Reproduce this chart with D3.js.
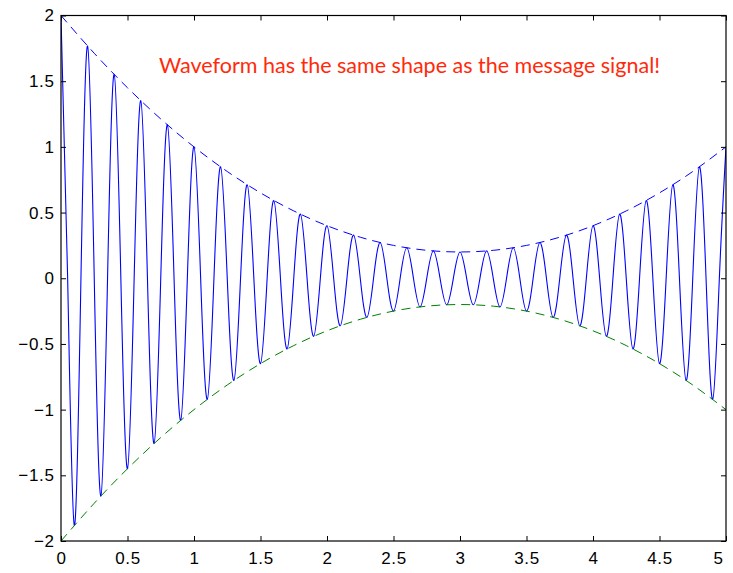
<!DOCTYPE html>
<html>
<head>
<meta charset="utf-8">
<script src="https://cdn.jsdelivr.net/npm/d3@7"></script>
<style>
  html, body { margin: 0; padding: 0; background: #fff; }
  svg { display: block; }
  .tick text { font-family: "Liberation Sans", Arial, Helvetica, sans-serif; font-size: 17px; letter-spacing: 0.7px; fill: #000; }
</style>
</head>
<body>
<svg id="chart" width="733" height="573"></svg>
<script>
// Modulated waveform: peak value of each half cycle (every 0.1 s, alternating sign)
const peakStep = 0.1;
const waveformPeaks = [
  2.000, -1.882, 1.768, -1.658, 1.552, -1.450, 1.352, -1.258, 1.168, -1.082,
  1.000, -0.922, 0.848, -0.778, 0.712, -0.650, 0.592, -0.538, 0.488, -0.442,
  0.400, -0.362, 0.328, -0.298, 0.272, -0.250, 0.232, -0.218, 0.208, -0.202,
  0.200, -0.202, 0.208, -0.218, 0.232, -0.250, 0.272, -0.298, 0.328, -0.362,
  0.400, -0.442, 0.488, -0.538, 0.592, -0.650, 0.712, -0.778, 0.848, -0.922,
  1.000
];

// Message envelope sampled every 0.25 s
const envelopeTimes = [0, 0.25, 0.5, 0.75, 1, 1.25, 1.5, 1.75, 2, 2.25, 2.5,
  2.75, 3, 3.25, 3.5, 3.75, 4, 4.25, 4.5, 4.75, 5];
const upperEnvelope = [2.0, 1.7125, 1.45, 1.2125, 1.0, 0.8125, 0.65, 0.5125, 0.4,
  0.3125, 0.25, 0.2125, 0.2, 0.2125, 0.25, 0.3125, 0.4, 0.5125, 0.65, 0.8125, 1.0];
const lowerEnvelope = [-2.0, -1.7125, -1.45, -1.2125, -1.0, -0.8125, -0.65, -0.5125, -0.4,
  -0.3125, -0.25, -0.2125, -0.2, -0.2125, -0.25, -0.3125, -0.4, -0.5125, -0.65, -0.8125, -1.0];

const xTickValues = [0, 0.5, 1, 1.5, 2, 2.5, 3, 3.5, 4, 4.5, 5];
const xTickLabels = ["0", "0.5", "1", "1.5", "2", "2.5", "3", "3.5", "4", "4.5", "5"];
const yTickValues = [-2, -1.5, -1, -0.5, 0, 0.5, 1, 1.5, 2];
const yTickLabels = ["\u22122", "\u22121.5", "\u22121", "\u22120.5", "0", "0.5", "1", "1.5", "2"];

const annotation = "Waveform has the same shape as the message signal!";

const svg = d3.select("#chart");
const plotLeft = 61, plotRight = 726, plotTop = 15.5, plotBottom = 541;

const x = d3.scaleLinear().domain([0, 5]).range([plotLeft, plotRight]);
const y = d3.scaleLinear().domain([-2, 2]).range([plotBottom, plotTop]);

// Waveform points: each peak followed by the zero crossing a quarter period later
const wavePoints = [];
waveformPeaks.forEach((v, i) => {
  const t = i * peakStep;
  wavePoints.push([t, v]);
  if (i < waveformPeaks.length - 1) wavePoints.push([t + peakStep / 2, 0]);
});

svg.append("defs").append("clipPath").attr("id", "plotClip")
  .append("rect").attr("x", plotLeft).attr("y", plotTop - 1)
  .attr("width", plotRight - plotLeft).attr("height", plotBottom - plotTop + 2);

const plot = svg.append("g").attr("clip-path", "url(#plotClip)");

const waveLine = d3.line()
  .x(d => x(d[0])).y(d => y(d[1]))
  .curve(d3.curveNatural);

plot.append("path")
  .datum(wavePoints)
  .attr("d", waveLine)
  .attr("fill", "none")
  .attr("stroke", "#0000ff")
  .attr("stroke-width", 1.1);

const envLine = d3.line()
  .x((d, i) => x(envelopeTimes[i])).y(d => y(d))
  .curve(d3.curveNatural);

plot.append("path")
  .datum(upperEnvelope)
  .attr("d", envLine)
  .attr("fill", "none")
  .attr("stroke", "#0000ff")
  .attr("stroke-width", 1)
  .attr("stroke-dasharray", "9,6");

plot.append("path")
  .datum(lowerEnvelope)
  .attr("d", envLine)
  .attr("fill", "none")
  .attr("stroke", "#008000")
  .attr("stroke-width", 1)
  .attr("stroke-dasharray", "9,6");

// Axes with inward ticks on all four sides
const fmtX = v => xTickLabels[xTickValues.indexOf(v)];
const fmtY = v => yTickLabels[yTickValues.indexOf(v)];

svg.append("g").attr("transform", `translate(0,${plotBottom})`)
  .call(d3.axisBottom(x).tickValues(xTickValues).tickFormat(fmtX)
    .tickSizeInner(-5).tickSizeOuter(0).tickPadding(10.5))
  .call(g => g.select(".domain").remove())
  // keep the final label inside the figure edge
  .call(g => g.selectAll(".tick text").filter(d => d === 5).attr("dx", -8));

svg.append("g").attr("transform", `translate(0,${plotTop})`)
  .call(d3.axisTop(x).tickValues(xTickValues).tickFormat("")
    .tickSizeInner(-5).tickSizeOuter(0))
  .call(g => g.select(".domain").remove());

svg.append("g").attr("transform", `translate(${plotLeft},0)`)
  .call(d3.axisLeft(y).tickValues(yTickValues).tickFormat(fmtY)
    .tickSizeInner(-5).tickSizeOuter(0).tickPadding(6.3))
  .call(g => g.select(".domain").remove());

svg.append("g").attr("transform", `translate(${plotRight},0)`)
  .call(d3.axisRight(y).tickValues(yTickValues).tickFormat("")
    .tickSizeInner(-5).tickSizeOuter(0))
  .call(g => g.select(".domain").remove());

svg.selectAll(".tick line").attr("stroke", "#000").attr("stroke-width", 1);

svg.append("rect")
  .attr("x", plotLeft).attr("y", plotTop)
  .attr("width", plotRight - plotLeft).attr("height", plotBottom - plotTop)
  .attr("fill", "none").attr("stroke", "#000").attr("stroke-width", 1.2);

// Annotation
svg.append("text")
  .attr("x", 159).attr("y", 73)
  .attr("font-family", "Lato, 'Open Sans', sans-serif")
  .attr("font-size", 21)
  .attr("fill", "#ff2a0a")
  .attr("textLength", 501)
  .attr("lengthAdjust", "spacingAndGlyphs")
  .text(annotation);
</script>
</body>
</html>
